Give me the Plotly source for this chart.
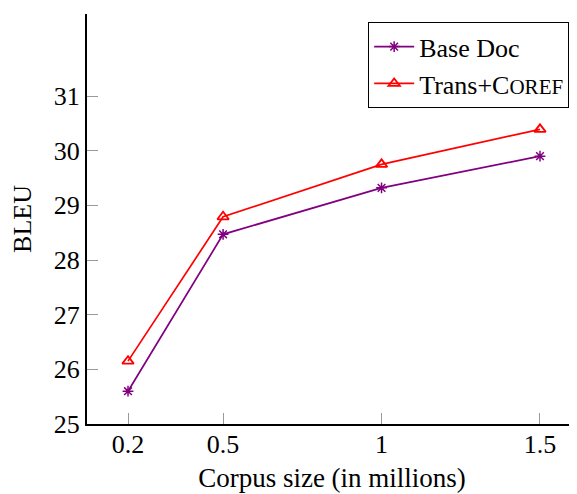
import plotly.graph_objects as go

corpus_size = [0.2, 0.5, 1, 1.5]
base_doc = [25.6, 28.47, 29.32, 29.9]
trans_coref = [26.15, 28.79, 29.75, 30.39]
x_ticks = [0.2, 0.5, 1, 1.5]
x_tick_labels = ["0.2", "0.5", "1", "1.5"]
y_ticks = [25, 26, 27, 28, 29, 30, 31]

FONT = "Liberation Serif, Times New Roman, serif"

fig = go.Figure()
fig.add_trace(go.Scatter(
    x=corpus_size, y=base_doc, mode="lines+markers", name="Base Doc",
    line=dict(color="#800080", width=1.7),
    marker=dict(symbol="asterisk-open", size=9, color="#800080",
                line=dict(color="#800080", width=1.5)),
))
fig.add_trace(go.Scatter(
    x=corpus_size, y=trans_coref, mode="lines+markers",
    name="Trans+C<span style='font-size:21px'>OREF</span>",
    line=dict(color="#ff0000", width=1.7),
    marker=dict(symbol="triangle-up-open", size=10, color="#ff0000",
                line=dict(color="#ff0000", width=1.8)),
))

fig.update_layout(
    width=569, height=486,
    margin=dict(l=79, r=0, t=6, b=70, autoexpand=False),
    paper_bgcolor="white", plot_bgcolor="white",
    font=dict(family=FONT, size=26, color="black"),
    showlegend=True,
    legend=dict(x=0.984, y=0.98, xanchor="right", yanchor="top",
                bordercolor="black", borderwidth=1, bgcolor="white",
                font=dict(family=FONT, size=26), tracegroupgap=0,
                itemwidth=40),
    xaxis=dict(range=[0.0706, 1.6168], tickvals=x_ticks, ticktext=x_tick_labels,
               showgrid=False, zeroline=False, showline=True, linecolor="black",
               linewidth=2, ticks="inside", ticklen=11, tickcolor="#999999",
               tickwidth=1, automargin=False, ticklabelstandoff=-4,
               title=dict(text="Corpus size (in millions)", standoff=10,
                          font=dict(size=27))),
    yaxis=dict(range=[25, 32.5], tickvals=y_ticks, showgrid=False, zeroline=False,
               showline=True, linecolor="black", linewidth=2, ticks="inside",
               ticklen=11, tickcolor="#999999", tickwidth=1, automargin=False,
               title=dict(text="BLEU", standoff=18, font=dict(size=26))),
)

fig.write_html("out.html")
